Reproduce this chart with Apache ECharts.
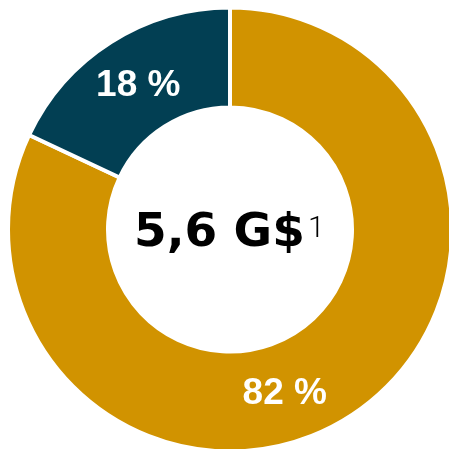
<!DOCTYPE html>
<html>
<head>
<meta charset="utf-8">
<script src="https://cdn.jsdelivr.net/npm/echarts@6/dist/echarts.min.js"></script>
<style>
  html, body { margin: 0; padding: 0; background: #fff; }
  #chart { width: 449px; height: 449px; }
</style>
</head>
<body>
<div id="chart"></div>
<script>
// Share split of the total, clockwise from 12 o'clock
const categories = ['A', 'B'];
const shares = [82, 18];
const colors = ['#D19300', '#023F53'];
const totalText = '5,6 G$';
const totalNote = '1';

const chart = echarts.init(document.getElementById('chart'), null, { renderer: 'canvas' });

chart.setOption({
  animation: false,
  graphic: [
    {
      type: 'text',
      left: 134,
      top: 210,
      style: {
        text: totalText,
        font: 'bold 47px "DejaVu Sans"',
        fill: '#000'
      }
    },
    {
      type: 'text',
      left: 308,
      top: 214,
      style: {
        text: totalNote,
        font: '300 30px Roboto, "Liberation Sans", sans-serif',
        fill: '#000'
      }
    }
  ],
  series: [{
    type: 'pie',
    center: [230, 229.5],
    radius: [122, 222],
    startAngle: 90,
    clockwise: true,
    silent: true,
    itemStyle: { borderColor: '#fff', borderWidth: 4 },
    label: {
      show: true,
      position: 'inside',
      formatter: p => p.value + ' %',
      color: '#fff',
      fontFamily: '"Liberation Sans", Arial',
      fontWeight: 'bold',
      fontSize: 37
    },
    labelLine: { show: false },
    labelLayout: p => (p.dataIndex === 0 ? { dx: -39, dy: 17 } : { dx: 2, dy: 4 }),
    data: categories.map((c, i) => ({
      name: c,
      value: shares[i],
      itemStyle: { color: colors[i] }
    }))
  }]
});
</script>
</body>
</html>
